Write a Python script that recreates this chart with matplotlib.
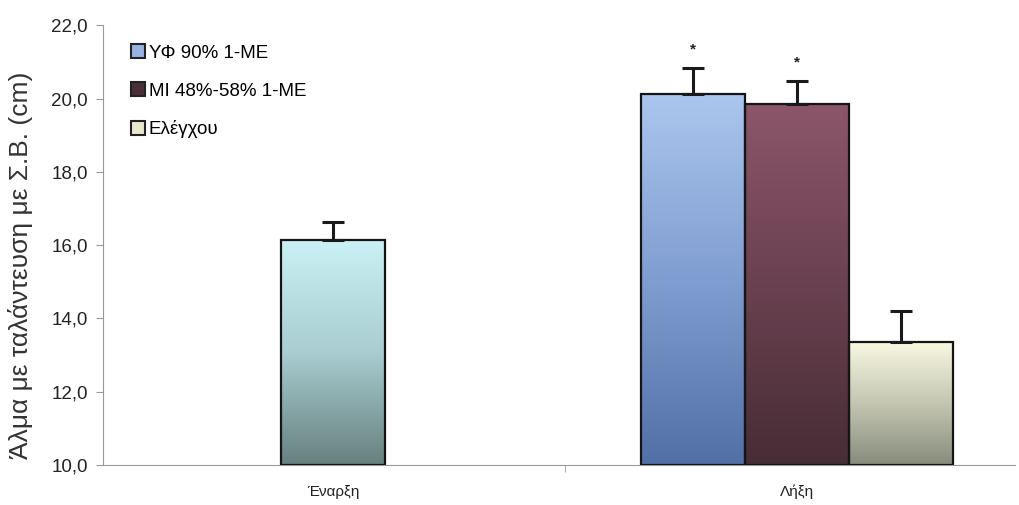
import numpy as np
import matplotlib.pyplot as plt
from matplotlib.colors import LinearSegmentedColormap
from matplotlib.patches import Patch

plt.rcParams['font.family'] = ['Liberation Sans', 'DejaVu Sans']

# data
categories = ['Έναρξη', 'Λήξη']
series = ['ΥΦ 90% 1-ΜΕ', 'ΜΙ 48%-58% 1-ΜΕ', 'Ελέγχου']
start_mean = 16.15
start_sd = 0.48
end_means = [20.12, 19.86, 13.36]
end_sds = [0.72, 0.63, 0.85]
significant = [True, True, False]

# gradient colours (bottom, middle, top)
start_colors = ('#66807e', '#a9cdd1', '#caf1f5')
series_colors = [('#5270a6', '#7f9dd0', '#abc6ee'),
                 ('#472d35', '#6a4150', '#8c566a'),
                 ('#868c7c', '#c4c6b2', '#f9f9e2')]
legend_colors = ['#9ab2e0', '#4a2e38', '#e8e8cc']

fig = plt.figure(figsize=(10.19, 5.05), dpi=100)
ax = fig.add_axes([0.101, 0.079, 0.895, 0.871])

width = 0.224


def gradient_bar(x, h, colors):
    bar = ax.bar(x, h - 10, width=width, bottom=10, color='none',
                 edgecolor='#151515', linewidth=1.6, zorder=3)[0]
    cmap = LinearSegmentedColormap.from_list('g', list(colors))
    grad = np.linspace(0, 1, 256).reshape(-1, 1)
    im = ax.imshow(grad, cmap=cmap, aspect='auto', origin='lower',
                   extent=[x - width / 2, x + width / 2, 10, h], zorder=2)
    im.set_clip_path(bar)
    return bar


def up_error(x, h, sd):
    ax.errorbar(x, h, yerr=[[0], [sd]], fmt='none', ecolor='#1a1a1a',
                elinewidth=2.2, capsize=8, capthick=2.2, zorder=4)


# first category: single bar
gradient_bar(0, start_mean, start_colors)
up_error(0, start_mean, start_sd)

# second category: grouped bars
offsets = [-width, 0, width]
for i, (m, sd) in enumerate(zip(end_means, end_sds)):
    x = 1 + offsets[i]
    gradient_bar(x, m, series_colors[i])
    up_error(x, m, sd)
    if significant[i]:
        ax.text(x, m + sd + 0.3, '*', ha='center', va='bottom', fontsize=11,
                fontweight='bold', color='#222222')

ax.set_xlim(-0.496, 1.47)
ax.set_ylim(10, 22)
yt = np.arange(10, 22.1, 2)
ax.set_yticks(yt)
ax.set_yticklabels([f'{v:.1f}'.replace('.', ',') for v in yt], fontsize=13.5,
                   color='#222222')
ax.set_xticks([0, 1])
ax.set_xticklabels(categories, fontsize=11, color='#222222')
ax.set_xticks([0.5], minor=True)
ax.tick_params(axis='x', which='major', length=0, pad=14)
ax.tick_params(axis='x', which='minor', length=5, color='#999999')
ax.tick_params(axis='y', length=5, color='#999999', pad=6)
ax.set_ylabel('Άλμα με ταλάντευση με Σ.Β. (cm)', fontsize=19, color='#333333')
ax.yaxis.set_label_coords(-0.077, 0.455)

for s in ['top', 'right']:
    ax.spines[s].set_visible(False)
ax.spines['left'].set_color('#999999')
ax.spines['bottom'].set_color('#999999')

handles = [Patch(facecolor=c, edgecolor='#222222', linewidth=1.5) for c in legend_colors]
ax.legend(handles, series, loc='upper left', bbox_to_anchor=(0.012, 0.995),
          frameon=False, fontsize=13.5, handlelength=0.75, handleheight=0.75,
          handletextpad=0.2, labelspacing=1.1)

fig.savefig('out.png', dpi=100)
